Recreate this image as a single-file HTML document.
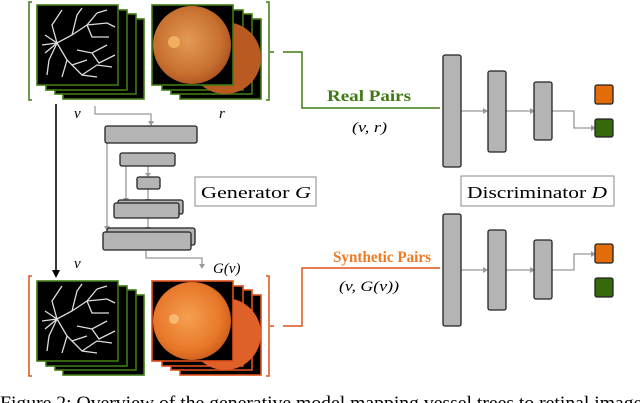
<!DOCTYPE html>
<html><head><meta charset="utf-8"><style>
html,body{margin:0;padding:0;background:#fff;width:640px;height:403px;overflow:hidden}
</style></head><body>
<svg width="640" height="403" viewBox="0 0 640 403" xmlns="http://www.w3.org/2000/svg" font-family="Liberation Serif, serif">
<defs>
<radialGradient id="ret" cx="0.45" cy="0.45" r="0.6"><stop offset="0" stop-color="#e39a55"/><stop offset="0.7" stop-color="#c8702f"/><stop offset="1" stop-color="#a85020"/></radialGradient>
<radialGradient id="ret2" cx="0.45" cy="0.45" r="0.6"><stop offset="0" stop-color="#f5a050"/><stop offset="0.7" stop-color="#e8782a"/><stop offset="1" stop-color="#c85a18"/></radialGradient>
<g id="ves">
<rect x="0" y="0" width="81" height="80" fill="#000"/>
<g stroke="#ddd" stroke-width="1.3" fill="none">
<path d="M5 40 L20 38 L35 30 L50 20 L60 8"/><path d="M20 38 L30 55 L45 70 L60 72"/>
<path d="M35 30 L40 10 L45 3"/><path d="M50 20 L70 18 L78 22"/><path d="M30 55 L25 72"/>
<path d="M45 70 L60 60 L75 62"/><path d="M20 38 L12 55 L10 70"/><path d="M20 38 L15 20 L25 5"/>
<path d="M40 45 L55 48 L70 40"/><path d="M50 20 L55 32 L72 32"/><path d="M35 60 L50 55"/>
<path d="M8 30 L20 38 L8 48"/><path d="M60 8 L70 5"/><path d="M55 48 L62 58 L78 50"/>
</g></g>
</defs>
<g stroke="#3f7a14" stroke-width="1.6">
<rect x="63" y="19" width="81" height="80" fill="#000"/>
<rect x="55" y="14" width="81" height="80" fill="#000"/>
<rect x="46" y="10" width="81" height="80" fill="#000"/>
</g>
<g transform="translate(37,5)"><use href="#ves"/></g>
<rect x="37" y="5" width="81" height="80" fill="none" stroke="#3f7a14" stroke-width="1.6"/>
<g stroke="#3f7a14" stroke-width="1.6">
<rect x="180" y="19" width="81" height="80" fill="#000"/>
<rect x="171" y="14" width="81" height="80" fill="#000"/>
<rect x="162" y="10" width="81" height="80" fill="#000"/>
</g>
<circle cx="225" cy="58" r="36" fill="#b85a22"/>
<rect x="152" y="5" width="81" height="80" fill="#000" stroke="#3f7a14" stroke-width="1.6"/>
<circle cx="192" cy="45" r="39" fill="url(#ret)"/>
<circle cx="174" cy="42" r="6" fill="#f0b060"/>
<path d="M32 2 H29 V100 H32" fill="none" stroke="#3f7a14" stroke-width="1.5"/>
<path d="M266 2 H269 V100 H266" fill="none" stroke="#3f7a14" stroke-width="1.5"/>
<path d="M270 52 H274" stroke="#3f7a14" stroke-width="1.5"/>
<path d="M283 52 H302 V108 H440" fill="none" stroke="#3f7a14" stroke-width="1.5"/>
<text x="327" y="101" font-size="16" font-weight="bold" fill="#3f7a14" textLength="84" lengthAdjust="spacingAndGlyphs">Real Pairs</text>
<text x="352" y="132" font-size="15" font-style="italic" textLength="35" lengthAdjust="spacingAndGlyphs">(v, r)</text>
<text x="74" y="118" font-size="15" font-style="italic">v</text>
<text x="219" y="118" font-size="15" font-style="italic">r</text>
<path d="M56 104 V271" stroke="#000" stroke-width="1.6"/>
<path d="M52 270 L56 278 L60 270 Z" fill="#000"/>
<g stroke="#999" stroke-width="1.3" fill="none">
<path d="M95 106 V114 H151 V122"/>
<path d="M107 143 V227"/><path d="M126 166 V199"/><path d="M148 166 V174"/><path d="M148 189 V200"/><path d="M148 218 V228"/>
<path d="M146 251 V258 H202 V265"/>
</g>
<g fill="#999"><path d="M148 121 L151 126 L154 121Z"/><path d="M104 226 L107 231 L110 226Z"/><path d="M123 198 L126 203 L129 198Z"/><path d="M145 173 L148 177 L151 173Z"/><path d="M145 199 L148 203 L151 199Z"/><path d="M145 227 L148 231 L151 227Z"/><path d="M199 264 L202 269 L205 264Z"/></g>
<g fill="#b4b4b4" stroke="#222" stroke-width="1.3">
<rect x="105" y="126" width="92" height="17" rx="2"/>
<rect x="120" y="153" width="55" height="13" rx="2"/>
<rect x="137" y="177" width="23" height="12" rx="2"/>
<rect x="118" y="200" width="65" height="14" rx="2"/>
<rect x="114" y="203" width="65" height="15" rx="2"/>
<rect x="107" y="228" width="88" height="17" rx="2"/>
<rect x="103" y="232" width="88" height="18" rx="2"/>
</g>
<rect x="195" y="177" width="121" height="29" fill="#fff" stroke="#888" stroke-width="1"/>
<text x="201" y="198" font-size="17" textLength="110" lengthAdjust="spacingAndGlyphs">Generator <tspan font-style="italic">G</tspan></text>
<text x="74" y="268" font-size="15" font-style="italic">v</text>
<text x="213" y="273" font-size="15" font-style="italic">G(v)</text>
<g stroke="#3f7a14" stroke-width="1.6">
<rect x="63" y="295" width="81" height="80" fill="#000"/>
<rect x="55" y="290" width="81" height="80" fill="#000"/>
<rect x="46" y="286" width="81" height="80" fill="#000"/>
</g>
<g transform="translate(37,281)"><use href="#ves"/></g>
<rect x="37" y="281" width="81" height="80" fill="none" stroke="#3f7a14" stroke-width="1.6"/>
<g stroke="#e0501a" stroke-width="1.6">
<rect x="180" y="295" width="81" height="80" fill="#000"/>
<rect x="171" y="290" width="81" height="80" fill="#000"/>
<rect x="162" y="286" width="81" height="80" fill="#000"/>
</g>
<circle cx="225" cy="334" r="36" fill="#e0602a"/>
<rect x="152" y="281" width="81" height="80" fill="#000" stroke="#e0501a" stroke-width="1.6"/>
<circle cx="192" cy="321" r="39" fill="url(#ret2)"/>
<circle cx="174" cy="319" r="5" fill="#f8b870"/>
<path d="M32 276 H29 V376 H32" fill="none" stroke="#e0501a" stroke-width="1.5"/>
<path d="M266 276 H269 V376 H266" fill="none" stroke="#e0501a" stroke-width="1.5"/>
<path d="M270 326 H274" stroke="#e0501a" stroke-width="1.5"/>
<path d="M283 326 H302 V268 H440" fill="none" stroke="#e0501a" stroke-width="1.5"/>
<text x="333" y="262" font-size="16" font-weight="bold" fill="#ee7a22" textLength="98" lengthAdjust="spacingAndGlyphs">Synthetic Pairs</text>
<text x="339" y="291" font-size="15" font-style="italic" textLength="60" lengthAdjust="spacingAndGlyphs">(v, G(v))</text>
<g stroke="#999" stroke-width="1.3" fill="none">
<path d="M461 111 H484"/><path d="M506 111 H531"/><path d="M552 111 H574 V128 H592"/>
<path d="M461 270 H484"/><path d="M506 270 H531"/><path d="M552 270 H574 V254 H592"/>
</g>
<g fill="#999"><path d="M483 108 L488 111 L483 114Z"/><path d="M530 108 L535 111 L530 114Z"/><path d="M591 125 L596 128 L591 131Z"/>
<path d="M483 267 L488 270 L483 273Z"/><path d="M530 267 L535 270 L530 273Z"/><path d="M591 251 L596 254 L591 257Z"/></g>
<g fill="#b4b4b4" stroke="#222" stroke-width="1.3">
<rect x="443" y="55" width="18" height="112" rx="2"/>
<rect x="488" y="71" width="18" height="81" rx="2"/>
<rect x="534" y="82" width="18" height="58" rx="2"/>
<rect x="443" y="214" width="18" height="112" rx="2"/>
<rect x="488" y="230" width="18" height="80" rx="2"/>
<rect x="534" y="240" width="18" height="59" rx="2"/>
</g>
<g stroke="#222" stroke-width="1.3">
<rect x="595" y="85" width="18" height="19" rx="2" fill="#e36c0a"/>
<rect x="595" y="119" width="18" height="18" rx="2" fill="#356a0c"/>
<rect x="595" y="244" width="18" height="19" rx="2" fill="#e36c0a"/>
<rect x="595" y="278" width="18" height="19" rx="2" fill="#356a0c"/>
</g>
<rect x="461" y="176" width="153" height="30" fill="#fff" stroke="#888" stroke-width="1"/>
<text x="467" y="198" font-size="17" textLength="140" lengthAdjust="spacingAndGlyphs">Discriminator <tspan font-style="italic">D</tspan></text>
<text x="0" y="409" font-size="19" textLength="650" lengthAdjust="spacingAndGlyphs">Figure 2: Overview of the generative model mapping vessel trees to retinal images</text>
</svg>
</body></html>
